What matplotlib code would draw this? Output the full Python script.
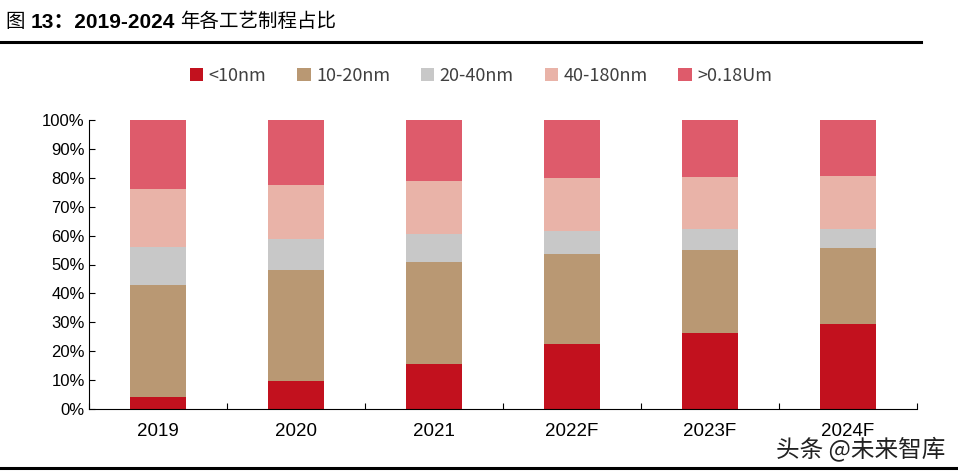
import numpy as np
import matplotlib.pyplot as plt

plt.rcParams['font.family'] = ['Liberation Sans', 'Noto Sans CJK SC', 'DejaVu Sans']

years = ['2019', '2020', '2021', '2022F', '2023F', '2024F']
series = ['<10nm', '10-20nm', '20-40nm', '40-180nm', '>0.18Um']
lt10 = [4.3, 9.7, 15.6, 22.4, 26.3, 29.4]
n10_20 = [38.6, 38.4, 35.3, 31.2, 28.7, 26.3]
n20_40 = [13.3, 10.7, 9.7, 8.0, 7.2, 6.7]
n40_180 = [19.8, 18.7, 18.3, 18.3, 18.2, 18.3]
gt018 = [24.0, 22.5, 21.1, 20.1, 19.6, 19.3]
colors = ['#C2111E', '#B99873', '#C8C8C8', '#E9B3A8', '#DE5B6B']

fig = plt.figure(figsize=(9.58, 4.73), dpi=100)
ax = fig.add_axes([89/958, 1-409/473, (917-89)/958, (409-120)/473])

x = np.arange(len(years)) + 0.5
bottom = np.zeros(len(years))
for name, vals, c in zip(series, [lt10, n10_20, n20_40, n40_180, gt018], colors):
    ax.bar(x, vals, 0.41, bottom=bottom, color=c, label=name)
    bottom += np.array(vals)

ax.set_xlim(0, len(years))
ax.set_ylim(0, 100)
ax.set_yticks(np.arange(0, 101, 10))
ax.set_yticklabels([f'{v}%' for v in range(0, 101, 10)], fontsize=12)
ax.set_xticks(np.arange(len(years) + 1))
ax.set_xticklabels([])
ax.set_xticks(x, minor=True)
ax.set_xticklabels(years, minor=True, fontsize=13.5)
ax.tick_params(axis='x', which='minor', length=0, pad=10)
ax.tick_params(axis='x', which='major', direction='in', length=4)
ax.tick_params(axis='y', direction='in', length=4, pad=3)
for s in ['top', 'right']:
    ax.spines[s].set_visible(False)

leg = fig.legend(loc='center', bbox_to_anchor=(481/958, 1-76/473), ncol=5, frameon=False,
                 handlelength=0.75, handleheight=0.75, handletextpad=0.3, columnspacing=1.7,
                 prop={'family': ['Noto Sans CJK SC'], 'size': 13})
for t in leg.get_texts():
    t.set_color('#404040')

# title: Chinese parts regular, numbers bold
ty = 1 - 22/473
fig.text(5/958, ty, '图', fontsize=14, va='center', ha='left')
fig.text(31/958, ty, '13：2019-2024', fontsize=15, fontweight='bold', va='center', ha='left')
fig.text(180/958, ty, '年各工艺制程占比', fontsize=14, va='center', ha='left')
fig.add_artist(plt.Line2D([0, 921/958], [1-42/473, 1-42/473], color='black', lw=2.2))
fig.add_artist(plt.Line2D([0, 1], [1-468/473, 1-468/473], color='black', lw=2.2))

fig.text(945/958, 1-449/473, '头条 @未来智库', fontsize=17, ha='right', va='center',
         color='#222222', family=['Noto Sans CJK SC'])

fig.savefig('out.png', dpi=100)
